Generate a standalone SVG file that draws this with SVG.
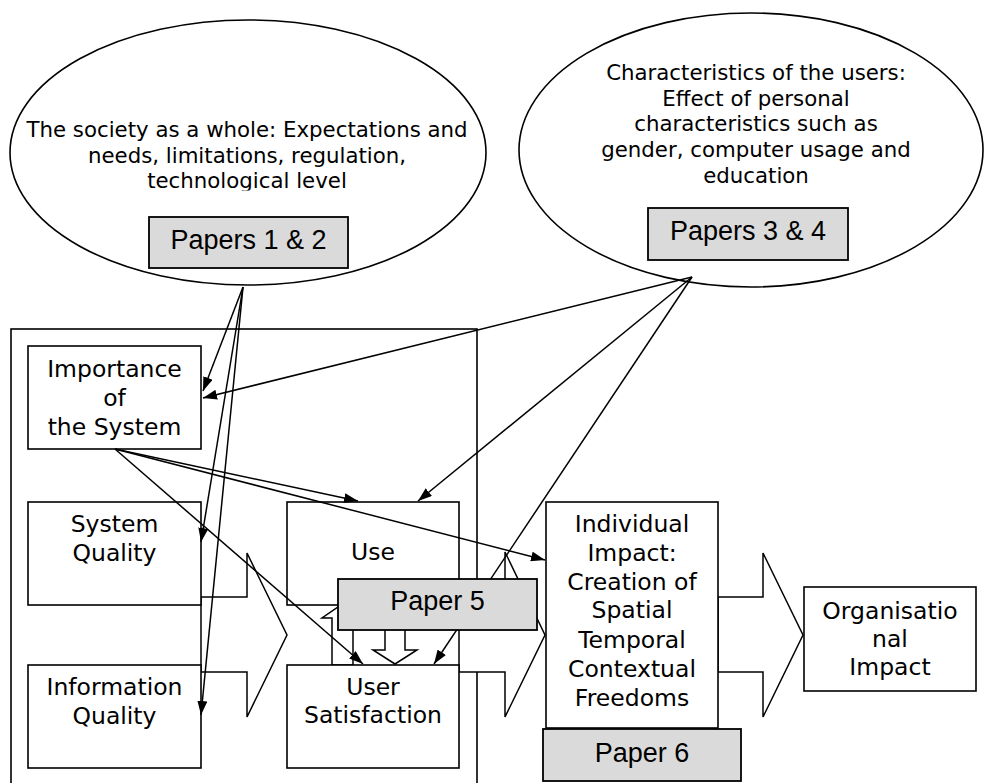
<svg xmlns="http://www.w3.org/2000/svg" width="984" height="783" viewBox="0 0 984 783">
<style>
.sh{fill:#fff;stroke:#000;stroke-width:1.6}
.pp{fill:#dadada;stroke:#000;stroke-width:1.8}
.ba{fill:#fff;stroke:#000;stroke-width:1.5;stroke-linejoin:miter}
.ln{fill:none;stroke:#000;stroke-width:1.5}
.t{font-family:"DejaVu Sans",Verdana,sans-serif;font-size:23.5px;text-anchor:middle;fill:#000}
.te{font-family:"DejaVu Sans",Verdana,sans-serif;font-size:21.3px;text-anchor:middle;fill:#000}
.tp{font-family:"Liberation Sans",Arial,sans-serif;font-size:27px;text-anchor:middle;fill:#000}
</style>
<defs>
<marker id="ah" viewBox="0 0 14 10" refX="14" refY="5" markerWidth="14" markerHeight="10" orient="auto" markerUnits="userSpaceOnUse">
<path d="M0,0 L14,5 L0,10 z" fill="#000"/>
</marker>
<clipPath id="clipL"><rect x="0" y="0" width="500" height="190.5"/></clipPath>
</defs>

<g id="society">
<ellipse class="sh" cx="248" cy="152.5" rx="238" ry="132.5"/>
<g clip-path="url(#clipL)">
<text class="te" x="247" y="137">The society as a whole: Expectations and</text>
<text class="te" x="247" y="163">needs, limitations, regulation,</text>
<text class="te" x="247" y="188">technological level</text>
</g>
<rect class="pp" x="149" y="217" width="199" height="51"/>
<text class="tp" x="248.5" y="249">Papers 1 &amp; 2</text>
</g>

<g id="users">
<ellipse class="sh" cx="751" cy="150" rx="232" ry="137"/>
<text class="te" x="756" y="80">Characteristics of the users:</text>
<text class="te" x="756" y="106">Effect of personal</text>
<text class="te" x="756" y="131">characteristics such as</text>
<text class="te" x="756" y="157">gender, computer usage and</text>
<text class="te" x="756" y="183">education</text>
<rect class="pp" x="648" y="208" width="200" height="52"/>
<text class="tp" x="748" y="240">Papers 3 &amp; 4</text>
</g>

<g id="frame">
<rect x="11" y="329" width="466" height="470" fill="none" stroke="#000" stroke-width="1.6"/>
</g>

<g id="block-arrows">
<polygon class="ba" points="201,597 247,597 247,553 287,635 247,717 247,672 201,672"/>
<polygon class="ba" points="459,597 505,597 505,552 545,635 505,717 505,672 459,672"/>
<polygon class="ba" points="718,597 763,597 763,553 803,635 763,717 763,672 718,672"/>
<polygon class="ba" points="332,665 332,618 322,618 342.5,604 363,618 353,618 353,665"/>
<polygon class="ba" points="385,600 385,650 373,650 395,664 417,650 405,650 405,600"/>
</g>

<g id="importance">
<rect class="sh" x="28" y="346" width="173" height="103"/>
<text class="t" x="114.5" y="377">Importance</text>
<text class="t" x="114.5" y="406">of</text>
<text class="t" x="114.5" y="435">the System</text>
</g>

<g id="system-quality">
<rect class="sh" x="28" y="502" width="173" height="103"/>
<text class="t" x="114.5" y="532">System</text>
<text class="t" x="114.5" y="561">Quality</text>
</g>

<g id="information-quality">
<rect class="sh" x="28" y="665" width="173" height="103"/>
<text class="t" x="114.5" y="695">Information</text>
<text class="t" x="114.5" y="724">Quality</text>
</g>

<g id="use">
<rect class="sh" x="287" y="502" width="172" height="103"/>
<text class="t" x="373" y="560">Use</text>
</g>

<g id="user-satisfaction">
<rect class="sh" x="287" y="665" width="172" height="103"/>
<text class="t" x="373" y="695">User</text>
<text class="t" x="373" y="723">Satisfaction</text>
</g>

<g id="individual-impact">
<rect class="sh" x="546" y="502" width="172" height="226"/>
<text class="t" x="632" y="532">Individual</text>
<text class="t" x="632" y="561">Impact:</text>
<text class="t" x="632" y="590">Creation of</text>
<text class="t" x="632" y="618">Spatial</text>
<text class="t" x="632" y="648">Temporal</text>
<text class="t" x="632" y="677">Contextual</text>
<text class="t" x="632" y="706">Freedoms</text>
</g>

<g id="organisational-impact">
<rect class="sh" x="804" y="587" width="172" height="104"/>
<text class="t" x="890" y="619">Organisatio</text>
<text class="t" x="890" y="647">nal</text>
<text class="t" x="890" y="675">Impact</text>
</g>

<g id="connectors">
<line class="ln" x1="243" y1="287" x2="203" y2="391" marker-end="url(#ah)"/>
<line class="ln" x1="243" y1="287" x2="201" y2="542" marker-end="url(#ah)"/>
<line class="ln" x1="243" y1="287" x2="201" y2="715" marker-end="url(#ah)"/>
<line class="ln" x1="692" y1="277" x2="203" y2="398" marker-end="url(#ah)"/>
<line class="ln" x1="692" y1="277" x2="418" y2="501" marker-end="url(#ah)"/>
<line class="ln" x1="692" y1="277" x2="434" y2="664" marker-end="url(#ah)"/>
<line class="ln" x1="115" y1="449" x2="358" y2="501" marker-end="url(#ah)"/>
<line class="ln" x1="115" y1="449" x2="545" y2="560" marker-end="url(#ah)"/>
<line class="ln" x1="115" y1="449" x2="363" y2="664" marker-end="url(#ah)"/>
</g>

<g id="paper5">
<rect class="pp" x="338" y="579" width="199" height="51"/>
<text class="tp" x="437.5" y="610">Paper 5</text>
</g>

<g id="paper6">
<rect class="pp" x="543" y="729" width="198" height="52"/>
<text class="tp" x="642" y="762">Paper 6</text>
</g>
</svg>
